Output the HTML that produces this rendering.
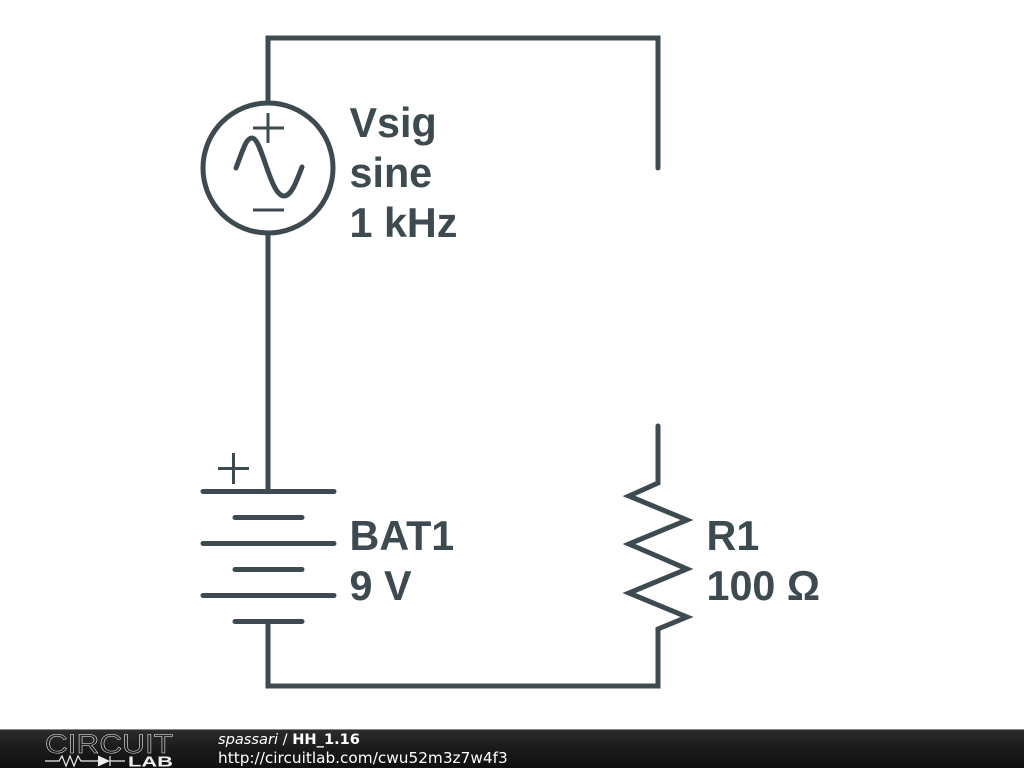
<!DOCTYPE html>
<html>
<head>
<meta charset="utf-8">
<style>
html,body{margin:0;padding:0;background:#fff;width:1024px;height:768px;overflow:hidden}
svg{display:block}
</style>
</head>
<body>
<svg width="1024" height="768" viewBox="0 0 1024 768" xmlns="http://www.w3.org/2000/svg">
<defs>
<linearGradient id="bar" x1="0" y1="0" x2="0" y2="1">
<stop offset="0" stop-color="#2e2e2e"/>
<stop offset="0.5" stop-color="#1a1a1a"/>
<stop offset="1" stop-color="#101010"/>
</linearGradient>
</defs>
<rect width="1024" height="768" fill="#fff"/>
<g fill="none" stroke="#3d4a50" stroke-width="5" stroke-linecap="round" stroke-linejoin="miter">
<path d="M268 100V38H658V168"/>
<circle cx="268" cy="168" r="65"/>
<path d="M268 235V491"/>
<path d="M236 168C243 150 246 138 252 138C262 138 270 196 284 196C291 196 296 183 302 167"/>
<path d="M203 491.500H334M235 517.500H302M203 543.500H334M235 569.500H302M203 595.500H334M235 621.500H302"/>
<path d="M268 621.500V686H658V629L687 617L629 593L687 569L629 544L687 520L629 496L658 483V426"/>
<g stroke-width="3" stroke-linecap="butt">
<path d="M253 128H284M268 113V143M253 210H284M218 468.500H249M233.500 453V484"/>
</g>
</g>
<g font-family="'Liberation Sans',sans-serif" font-weight="700" font-size="41.300" fill="#3d4a50">
<text x="349.500" y="137">Vsig</text>
<text x="349.500" y="187">sine</text>
<text x="349.500" y="237">1 kHz</text>
<text x="349.500" y="550">BAT1</text>
<text x="349.500" y="600">9 V</text>
<text x="706.500" y="550">R1</text>
<text x="706.500" y="600">100 Ω</text>
</g>
<rect x="0" y="729" width="1024" height="39" fill="url(#bar)"/>
<rect x="0" y="729" width="1024" height="1" fill="#888"/>
<text x="45" y="753" font-family="'Liberation Sans',sans-serif" font-size="27" fill="none" stroke="#eee" stroke-width="0.500" textLength="128" lengthAdjust="spacingAndGlyphs">CIRCUIT</text>
<g fill="none" stroke="#eee" stroke-width="1.200">
<path d="M45 761H59L62 756L66 766L70 756L74 766L78 756L81 761H98M110 761H125"/>
<path d="M110 756V766"/>
</g>
<path d="M98 755.500L110 761L98 766.500Z" fill="#eee"/>
<text x="128" y="766.500" font-family="'Liberation Sans',sans-serif" font-weight="700" font-size="15" fill="#eee" textLength="45" lengthAdjust="spacingAndGlyphs">LAB</text>
<g font-family="'DejaVu Sans',sans-serif" fill="#fff">
<text x="218" y="744" font-size="14.600"><tspan font-style="italic">spassari</tspan> / <tspan font-weight="700">HH_1.16</tspan></text>
<text x="218" y="763" font-size="15.300">http://circuitlab.com/cwu52m3z7w4f3</text>
</g>
</svg>
</body>
</html>
